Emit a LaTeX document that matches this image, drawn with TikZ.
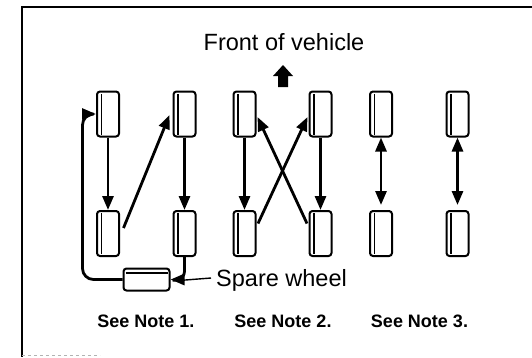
\documentclass[tikz,border=0pt]{standalone}
\usepackage{fontspec}
\setmainfont{Liberation Sans}
\usetikzlibrary{arrows.meta}
\begin{document}
\begin{tikzpicture}[x=1pt,y=-1pt,
  tire/.style={draw,line width=2pt,rounded corners=3pt,minimum width=22pt,minimum height=45pt,inner sep=0pt,
    path picture={\draw[line width=1.3pt] ([xshift=4.5pt,yshift=2pt]path picture bounding box.south west) -- ([xshift=4.5pt,yshift=-2pt]path picture bounding box.north west);}},
  spare/.style={draw,line width=2pt,rounded corners=3pt,minimum width=46pt,minimum height=22pt,inner sep=0pt,
    path picture={\draw[line width=1.3pt] ([xshift=2pt,yshift=-4.5pt]path picture bounding box.north west) -- ([xshift=-2pt,yshift=-4.5pt]path picture bounding box.north east);}},
  arr/.style={line width=2.8pt,-{Triangle[length=14pt,width=11pt]}},
  arrb/.style={line width=2.8pt,{Triangle[length=14pt,width=11pt]}-{Triangle[length=14pt,width=11pt]}},
  frame/.style={line width=2.2pt},
  lbl/.style={font=\fontsize{23.5}{26}\selectfont,inner sep=0pt},
  note/.style={font=\fontsize{18}{21}\selectfont\bfseries,inner sep=0pt}]
\useasboundingbox (0,0) rectangle (532,357);
% frame
\coordinate (fTL) at (22,7);
\coordinate (fTR) at (532,7);
\coordinate (fBL) at (22,357);
\coordinate (fBR) at (100,355);
\draw[frame] (fTR) -- (fTL) -- (fBL);
\draw[line width=0.8pt,gray!60,dashed] ([yshift=2pt]fBL) -- (fBR);
% title
\node[lbl] (front) at (284,42) {Front of vehicle};
\coordinate (up) at (283,76);
\fill ([yshift=11pt]up) -- ([xshift=10pt]up) -- ([xshift=5pt]up) -- ([xshift=5pt,yshift=-11pt]up)
  -- ([xshift=-5pt,yshift=-11pt]up) -- ([xshift=-5pt]up) -- ([xshift=-10pt]up) -- cycle;
% tires
\node[tire] (tA) at (108,114) {};
\node[tire] (bA) at (108,233.5) {};
\node[tire] (tB) at (184.5,114) {};
\node[tire] (bB) at (184.5,233.5) {};
\node[tire] (tC) at (244.5,114) {};
\node[tire] (bC) at (244.5,233.5) {};
\node[tire] (tD) at (320.5,114) {};
\node[tire] (bD) at (320.5,233.5) {};
\node[tire] (tE) at (381,114) {};
\node[tire] (bE) at (381,233.5) {};
\node[tire] (tF) at (457.5,114) {};
\node[tire] (bF) at (457.5,233.5) {};
\node[spare] (sp) at (146.5,279.5) {};
% pattern 1
\draw[arr] (tA) -- (bA);
\draw[arr] (tB) -- (bB);
\draw[arr] ([xshift=3.5pt,yshift=5.5pt]bA.east) -- ([xshift=-3pt,yshift=-1pt]tB.west);
\draw[arr,rounded corners=11pt] (sp.west) -| ([xshift=-13.5pt]tA.west) -- (tA.west);
\draw[arr,rounded corners=8pt] (bB.south) |- (sp.east);
\node[lbl,anchor=west] (spl) at (216,280) {Spare wheel};
\draw[line width=1.4pt] ([xshift=-5pt,yshift=2pt]spl.west) -- ([xshift=2pt,yshift=-1.5pt]sp.east);
% pattern 2
\draw[arr] (tC) -- (bC);
\draw[arr] (tD) -- (bD);
\draw[arr] ([xshift=1.5pt,yshift=10pt]bC.east) -- ([xshift=-1pt,yshift=-3pt]tD.west);
\draw[arr] ([xshift=-1.5pt,yshift=10pt]bD.west) -- ([xshift=1pt,yshift=-3pt]tC.east);
% pattern 3
\draw[arrb,shorten >=5pt] (tE) -- (bE);
\draw[arrb,shorten >=5pt] (tF) -- (bF);
% notes
\node[note] (n1) at (146,321) {See Note 1.};
\node[note] (n2) at (283,321) {See Note 2.};
\node[note] (n3) at (419.5,321) {See Note 3.};
\end{tikzpicture}
\end{document}
